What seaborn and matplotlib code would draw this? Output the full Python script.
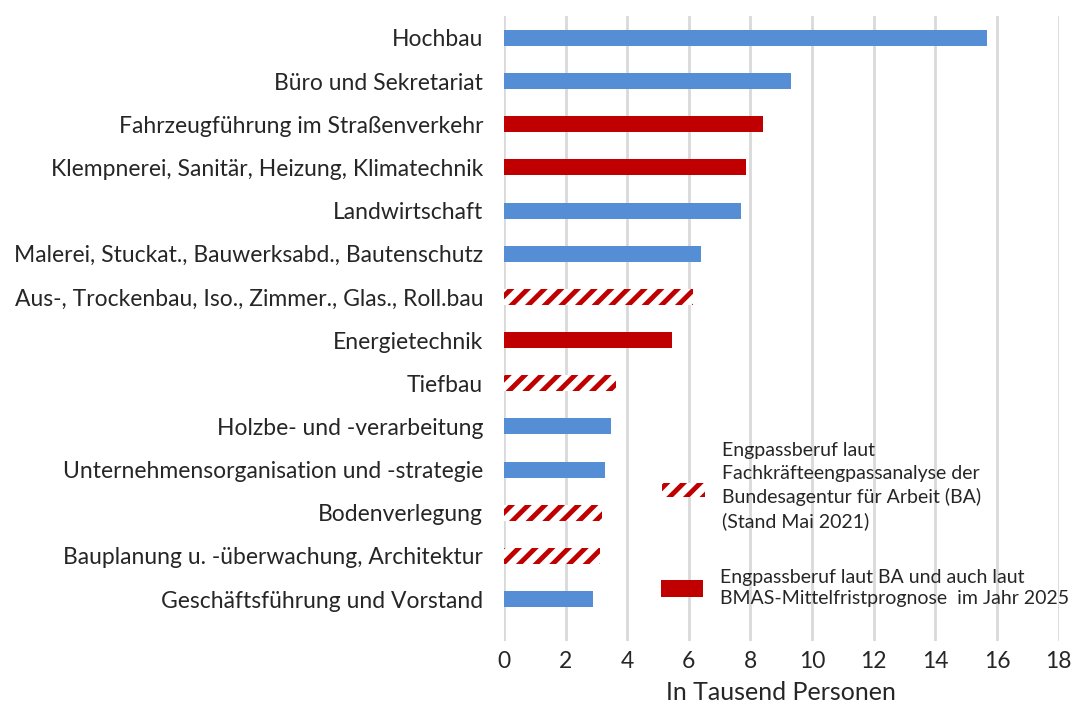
import matplotlib
matplotlib.use('Agg')
import matplotlib.pyplot as plt
import seaborn as sns
import pandas as pd
from matplotlib.patches import Rectangle

# Data
berufe = ['Hochbau', 'Büro und Sekretariat', 'Fahrzeugführung im Straßenverkehr',
          'Klempnerei, Sanitär, Heizung, Klimatechnik', 'Landwirtschaft',
          'Malerei, Stuckat., Bauwerksabd., Bautenschutz',
          'Aus-, Trockenbau, Iso., Zimmer., Glas., Roll.bau', 'Energietechnik',
          'Tiefbau', 'Holzbe- und -verarbeitung',
          'Unternehmensorganisation und -strategie', 'Bodenverlegung',
          'Bauplanung u. -überwachung, Architektur', 'Geschäftsführung und Vorstand']
werte = [15.68, 9.31, 8.40, 7.85, 7.69, 6.38, 6.15, 5.46, 3.65, 3.48, 3.28, 3.19, 3.12, 2.90]
typ = ['kein', 'kein', 'BA+BMAS', 'BA+BMAS', 'kein', 'kein', 'BA', 'BA+BMAS',
       'BA', 'kein', 'kein', 'BA', 'BA', 'kein']
x_ticks = [0, 2, 4, 6, 8, 10, 12, 14, 16, 18]

legend_ba = 'Engpassberuf laut\nFachkräfteengpassanalyse der\nBundesagentur für Arbeit (BA)\n(Stand Mai 2021)'
legend_bmas = 'Engpassberuf laut BA und auch laut\nBMAS-Mittelfristprognose  im Jahr 2025'

blau = '#558ED5'
rot = '#C00000'

df = pd.DataFrame({'beruf': berufe, 'wert': werte, 'typ': typ})

sns.set_style('white')
plt.rcParams['font.family'] = ['Lato', 'DejaVu Sans']
plt.rcParams['hatch.linewidth'] = 3.5
plt.rcParams['hatch.color'] = rot

fig = plt.figure(figsize=(10.75, 7.06), dpi=100)
ax = fig.add_axes([0.4688, 0.092, 0.516, 0.885])

pal = {'kein': blau, 'BA+BMAS': rot, 'BA': 'white'}
sns.barplot(data=df, y='beruf', x='wert', hue='typ', palette=pal, dodge=False,
            width=0.37, orient='h', ax=ax, legend=False, linewidth=0, saturation=1)

# gestreifte Balken (nur BA)
for p in ax.patches:
    idx = int(round(p.get_y() + p.get_height() / 2))
    if typ[idx] == 'BA':
        p.set_hatch('//')
        p.set_edgecolor(rot)
        p.set_facecolor('white')
        p.set_linewidth(0)

ax.set_xlim(0, 18)
ax.set_ylim(13.97, -0.5)
ax.set_xticks(x_ticks)
ax.set_xticklabels([str(t) for t in x_ticks])
ax.grid(axis='x', color='#D9D9D9', linewidth=2)
ax.set_axisbelow(True)
for s in ax.spines.values():
    s.set_visible(False)
ax.tick_params(axis='both', length=0, colors='#262626')
ax.tick_params(axis='x', pad=7, labelsize=16.5)
ax.tick_params(axis='y', pad=15, labelsize=16.5)
ax.set_ylabel('')
ax.set_xlabel('In Tausend Personen', fontsize=18, color='#262626', labelpad=7)

# Legende (manuell)
fig.patches.append(Rectangle((662 / 1075, 1 - 497 / 706), 43 / 1075, 14 / 706,
                             transform=fig.transFigure, facecolor='white',
                             edgecolor=rot, hatch='//', linewidth=0))
fig.patches.append(Rectangle((661 / 1075, 1 - 597 / 706), 42 / 1075, 17 / 706,
                             transform=fig.transFigure, facecolor=rot, linewidth=0))
fig.text(722 / 1075, 1 - 486 / 706, legend_ba, fontsize=14, color='#262626',
         va='center', ha='left', linespacing=1.42)
fig.text(720 / 1075, 1 - 588 / 706, legend_bmas, fontsize=14, color='#262626',
         va='center', ha='left', linespacing=1.3)

fig.savefig('out.png', dpi=100, facecolor='white')
